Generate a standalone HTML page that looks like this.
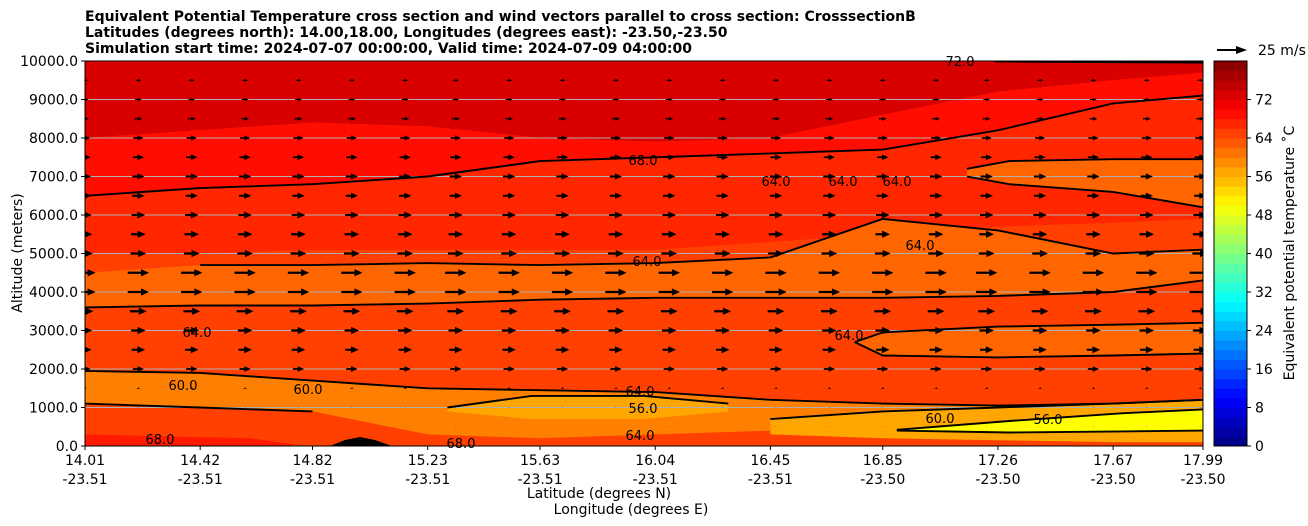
<!DOCTYPE html>
<html><head><meta charset="utf-8">
<style>
html,body{margin:0;padding:0;background:#fff;}
svg{display:block;font-family:"DejaVu Sans","Liberation Sans",sans-serif;}
</style></head>
<body>
<svg id="chart" width="1308" height="526" viewBox="0 0 1308 526" xmlns="http://www.w3.org/2000/svg">
<g font-weight="bold" font-size="14" fill="#000">
<text x="85" y="21">Equivalent Potential Temperature cross section and wind vectors parallel to cross section: CrosssectionB</text>
<text x="85" y="37">Latitudes (degrees north): 14.00,18.00, Longitudes (degrees east): -23.50,-23.50</text>
<text x="85" y="53">Simulation start time: 2024-07-07 00:00:00, Valid time: 2024-07-09 04:00:00</text>
</g>
<defs><clipPath id="plotclip"><rect x="85" y="61" width="1118" height="385"/></clipPath></defs>
<g id="field" clip-path="url(#plotclip)"></g>
<g id="grid"></g>
<g id="contours" clip-path="url(#plotclip)" fill="none" stroke="#000" stroke-width="1.9"></g>
<g id="clabels" font-size="13" fill="#000"></g>
<g id="arrows" clip-path="url(#plotclip)"></g>
<rect x="85" y="61" width="1118" height="385" fill="none" stroke="#000" stroke-width="1"/>
<g id="xaxis" font-size="14"></g>
<g id="yaxis" font-size="14"></g>
<text x="599" y="498" font-size="14" text-anchor="middle">Latitude (degrees N)</text>
<text x="631" y="514" font-size="14" text-anchor="middle">Longitude (degrees E)</text>
<text transform="translate(22,253) rotate(-90)" font-size="14" text-anchor="middle">Altitude (meters)</text>
<g id="cbar" font-size="14"></g>
<text transform="translate(1294,253) rotate(-90)" font-size="14" text-anchor="middle">Equivalent potential temperature ˚C</text>
<g>
<line x1="1217" y1="50" x2="1238" y2="50" stroke="#000" stroke-width="2"/>
<polygon points="1247,50 1236,46 1236,54" fill="#000"/>
<text x="1258" y="55" font-size="14">25 m/s</text>
</g>
</svg>
<script>
// ---- data ----
const lats = [14.01,14.42,14.82,15.23,15.63,16.04,16.45,16.85,17.26,17.67,17.99];
const lons = [-23.51,-23.51,-23.51,-23.51,-23.51,-23.51,-23.51,-23.50,-23.50,-23.50,-23.50];
const yTicks = [0,1000,2000,3000,4000,5000,6000,7000,8000,9000,10000];
const cbarTicks = [0,8,16,24,32,40,48,56,64,72];
const arrowAlts = [500,1000,1500,2000,2500,3000,3500,4000,4500,5000,5500,6000,6500,7000,7500,8000,8500,9000,9500];
const arrowSpeeds = [1,1,3,10,12,13,15,19,19,14,13,12,11,11,10,9,7,6,5];
const arrowCols = [14.01,14.20,14.39,14.58,14.77,14.96,15.15,15.33,15.52,15.71,15.90,16.09,16.28,16.47,16.66,16.85,17.04,17.22,17.41,17.60,17.79,17.98];
const baseValue = 65;
const bandA_lo = [8000,8200,8400,8300,8000,7900,8000,8600,9200,9500,9700];
const bandB_lo = [6500,6700,6800,7000,7400,7500,7600,7700,8200,8900,9100];
const bandC_lo = [5000,5000,5100,5100,5100,5100,5300,5500,5700,5800,5900];
const bandD_hi = [4500,4700,4700,4750,4700,4750,4900,5900,5600,5000,5100];
const bandD_lo = [3600,3650,3650,3700,3800,3850,3850,3850,3900,4000,4300];
const bandG_hi = [1950,1900,1700,1500,1450,1400,1200,1100,1050,1100,1200];
const bandG_lo = [1100,1000,900,300,200,300,400,300,300,300,300];
const blobE_lats = [17.15,17.3,17.67,17.99]; const blobE_lo=[7000,6800,6600,6200]; const blobE_hi=[7200,7400,7450,7450];
const blobF_lats = [16.75,16.85,17.26,17.67,17.99]; const blobF_lo=[2700,2350,2300,2350,2400]; const blobF_hi=[2700,2950,3100,3150,3200];
const blobH1_lats = [15.3,15.6,16.0,16.3]; const blobH1_lo=[900,700,700,900]; const blobH1_hi=[1000,1300,1300,1100];
const blobH2_lats = [16.45,16.85,17.26,17.67,17.99]; const blobH2_lo=[300,200,150,100,100]; const blobH2_hi=[700,900,1000,1100,1200];
const blobI_lats = [16.9,17.3,17.7,17.99]; const blobI_lo=[400,350,380,400]; const blobI_hi=[420,650,850,950];
const blobJ_lats = [14.01,14.3,14.6,14.75]; const blobJ_lo=[0,0,0,0]; const blobJ_hi=[300,250,200,50];

// ---- scales ----
const X0=85,X1=1203,Y0=446,Y1=61;
function x(lat){return X0+(lat-14.01)/(17.99-14.01)*(X1-X0);}
function y(alt){return Y0-alt/10000*(Y0-Y1);}
function jet(t){t=Math.max(0,Math.min(1,t));
 const f=(a)=>Math.max(0,Math.min(1,a));
 const r=f(Math.min(4*t-1.5,-4*t+4.5)), g=f(Math.min(4*t-0.5,-4*t+3.5)), b=f(Math.min(4*t+0.5,-4*t+2.5));
 return `rgb(${Math.round(r*255)},${Math.round(g*255)},${Math.round(b*255)})`;}
function col(v){return jet(v/80);}
const NS="http://www.w3.org/2000/svg";
function mk(tag,attrs,parent){const e=document.createElementNS(NS,tag);for(const k in attrs)e.setAttribute(k,attrs[k]);parent.appendChild(e);return e;}
function pts(la,al){return la.map((l,i)=>x(l).toFixed(1)+','+y(al[i]).toFixed(1));}
function band(la,lo,hi){return pts(la,hi).concat(pts(la,lo).reverse()).join(' ');}
const top10k = lats.map(()=>10000);

const field=document.getElementById('field');
let r=mk('rect',{x:85,y:61,width:1118,height:385,fill:col(baseValue)},field);


const bands=[
 ['band-73',73,lats,bandA_lo,top10k],
 ['band-69',69,lats,bandB_lo,bandA_lo],
 ['band-67',67,lats,bandC_lo,bandB_lo],
 ['band-63',62,lats,bandD_lo,bandD_hi],
 ['blob-e',62,blobE_lats,blobE_lo,blobE_hi],
 ['blob-f',62,blobF_lats,blobF_lo,blobF_hi],
 ['band-61',60,lats,bandG_lo,bandG_hi],
 ['blob-h1',57,blobH1_lats,blobH1_lo,blobH1_hi],
 ['blob-h2',57,blobH2_lats,blobH2_lo,blobH2_hi],
 ['blob-i',50,blobI_lats,blobI_lo,blobI_hi],
 ['blob-j',68,blobJ_lats,blobJ_lo,blobJ_hi]
];
bands.forEach(b=>{
 const p=mk('polygon',{points:band(b[2],b[3],b[4]),fill:col(b[1])},field);
 
 
});
const terr=mk('polygon',{points:'330,446 345,440 360,437 375,440 392,446',fill:'#000'},field);



const grid=document.getElementById('grid');
yTicks.forEach(t=>{if(t>0&&t<10000){const l=mk('line',{x1:85,x2:1203,y1:y(t),y2:y(t),stroke:'#b0b0b0','stroke-width':1},grid);
 
 }});

const cg=document.getElementById('contours');
function line(la,al,name){const p=mk('polyline',{points:pts(la,al).join(' ')},cg);
 
 }
line(lats,bandB_lo,'contour-68');
line(lats.slice(1),bandD_hi.slice(1),'contour-64-upper');
line(lats,bandD_lo,'contour-64-lower');
line(lats,bandG_hi,'contour-60-upper');
line(lats.slice(0,3),bandG_lo.slice(0,3),'contour-60-lower');
line(blobE_lats,blobE_lo,'contour-64-right-lower');
line(blobE_lats,blobE_hi,'contour-64-right-upper');
line(blobF_lats,blobF_hi,'contour-64-f-upper');
line(blobF_lats,blobF_lo,'contour-64-f-lower');
line(blobH2_lats,blobH2_hi,'contour-60-right');
line(blobI_lats,blobI_hi,'contour-56-upper');
line(blobI_lats,blobI_lo,'contour-56-lower');
line(blobH1_lats,blobH1_hi,'contour-56-mid');
line([17.25,17.4,17.99],[9990,9980,9960],'contour-72');

const labels=[['68.0',643,165],['64.0',647,266],['64.0',640,440],['64.0',640,396],['56.0',643,413],['60.0',940,423],['56.0',1048,424],['68.0',160,444],['68.0',461,448],['60.0',308,394],['60.0',183,390],['64.0',197,337],['64.0',849,340],['72.0',960,66],['64.0',920,250],['64.0',776,186],['64.0',843,186],['64.0',897,186]];
const lg=document.getElementById('clabels');
labels.forEach(l=>{const t=mk('text',{x:l[1],y:l[2],'text-anchor':'middle'},lg);t.textContent=l[0];
 
 });

const ag=document.getElementById('arrows');
const pxPerMs=28/25;
arrowAlts.forEach((alt,i)=>{const sp=arrowSpeeds[i];const L=sp*pxPerMs;const s=Math.min(1,L/14);
 arrowCols.forEach(c=>{const cx=x(c),cy=y(alt);const x0=cx-L/2,x1=cx+L/2;
  const hl=8*s,hw=3.6*s,sw=1.1*s;
  const p=mk('polygon',{points:`${x0},${cy-sw} ${x1-hl},${cy-sw} ${x1-hl},${cy-hw} ${x1},${cy} ${x1-hl},${cy+hw} ${x1-hl},${cy+sw} ${x0},${cy+sw}`,fill:'#000'},ag);
  
  });});

const xg=document.getElementById('xaxis');
lats.forEach((l,i)=>{const px=x(l);
 const tk=mk('line',{x1:px,x2:px,y1:446,y2:450,stroke:'#000'},xg);
 
 
 const t=mk('text',{x:px,y:465,'text-anchor':'middle'},xg);t.textContent=l.toFixed(2);
 
 
 const t2=mk('text',{x:px,y:484,'text-anchor':'middle'},xg);t2.textContent=lons[i].toFixed(2);
 
 });
const yg=document.getElementById('yaxis');
yTicks.forEach(t=>{const py=y(t);
 const tk=mk('line',{x1:81,x2:85,y1:py,y2:py,stroke:'#000'},yg);
 
 
 const tx=mk('text',{x:78,y:py+5,'text-anchor':'end'},yg);tx.textContent=t.toFixed(1);
 
 });
const cb=document.getElementById('cbar');
const CB0=446,CB1=61;
function cy(v){return CB0-v/80*(CB0-CB1);}
for(let v=0;v<80;v+=2){const rr=mk('rect',{x:1214,y:cy(v+2),width:33,height:cy(v)-cy(v+2)+0.5,fill:col(v+1)},cb);
 
 }
const fr=mk('rect',{x:1214,y:61,width:33,height:385,fill:'none',stroke:'#000'},cb);


cbarTicks.forEach(v=>{const py=cy(v);
 const tk=mk('line',{x1:1247,x2:1251,y1:py,y2:py,stroke:'#000'},cb);
 
 
 const t=mk('text',{x:1255,y:py+5},cb);t.textContent=v;
 
 });
</script>
</body></html>
